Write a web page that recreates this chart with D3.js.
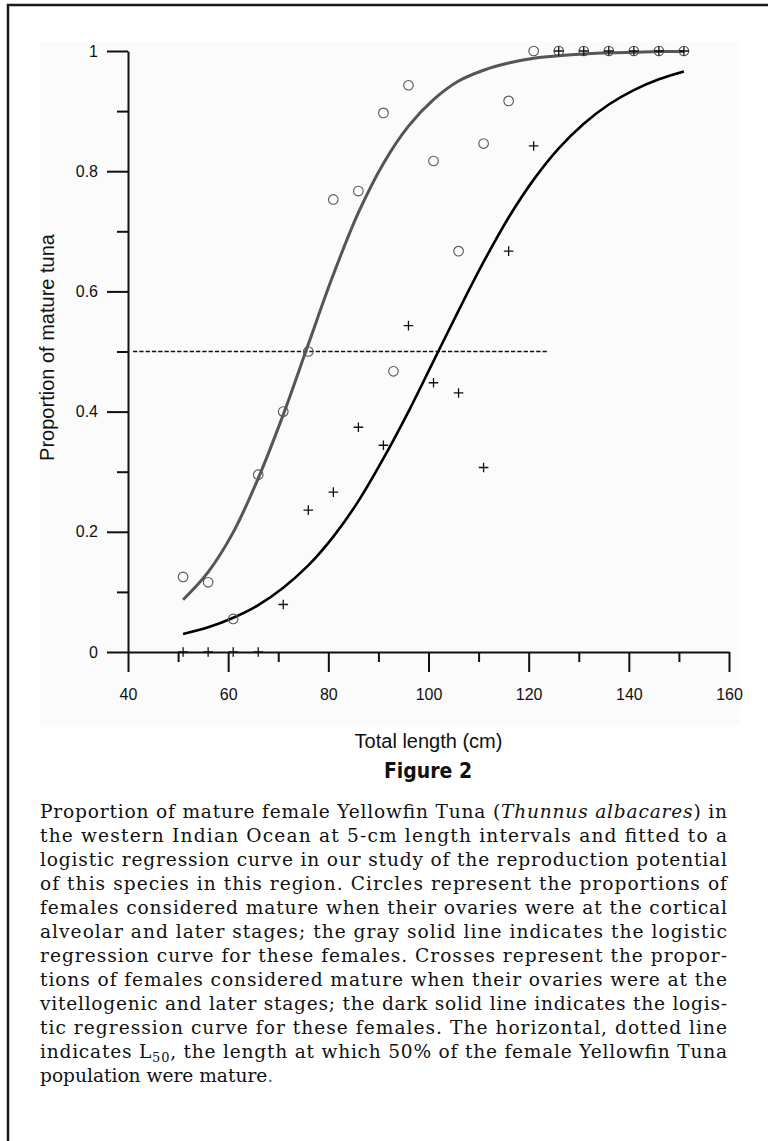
<!DOCTYPE html>
<html>
<head>
<meta charset="utf-8">
<script src="https://cdn.jsdelivr.net/npm/d3@7"></script>
<style>
  body { margin: 0; background: #fff; }
  .axis text { font-family: "Liberation Sans", Arial, sans-serif; font-size: 16px; fill: #111; }
  .axis path, .axis line { stroke: #111; stroke-width: 2; }
  .title { font-family: "Liberation Sans", Arial, sans-serif; font-size: 20px; fill: #111; }
  .caption { font-family: "DejaVu Serif", "Liberation Serif", serif; font-size: 18.6px; fill: #111; }
</style>
</head>
<body>
<div id="chart"></div>
<script>
// values (length in cm, proportion mature)
const circleLength = [51, 56, 61, 66, 71, 76, 81, 86, 91, 93, 96, 101, 106, 111, 116, 121, 126, 131, 136, 141, 146, 151];
const circleProp   = [0.125, 0.116, 0.055, 0.295, 0.400, 0.500, 0.753, 0.767, 0.897, 0.467, 0.943, 0.817, 0.667, 0.846, 0.917, 1, 1, 1, 1, 1, 1, 1];

const crossLength = [51, 56, 61, 66, 71, 76, 81, 86, 91, 96, 101, 106, 111, 116, 121, 126, 131, 136, 141, 146, 151];
const crossProp   = [0, 0, 0, 0, 0.079, 0.236, 0.266, 0.374, 0.344, 0.543, 0.448, 0.431, 0.307, 0.667, 0.842, 1, 1, 1, 1, 1, 1];

// fitted curves, read every 5 cm
const fitLength = [51, 56, 61, 66, 71, 76, 81, 86, 91, 96, 101, 106, 111, 116, 121, 126, 131, 136, 141, 146, 151];
const grayFit = [0.087, 0.133, 0.199, 0.289, 0.395, 0.512, 0.628, 0.731, 0.813, 0.875, 0.919, 0.950, 0.968, 0.980, 0.988, 0.992, 0.995, 0.997, 0.998, 0.999, 0.999];
const darkFit = [0.030, 0.041, 0.057, 0.078, 0.107, 0.144, 0.192, 0.251, 0.322, 0.400, 0.484, 0.568, 0.649, 0.723, 0.786, 0.838, 0.879, 0.911, 0.935, 0.953, 0.966];

// L50 reference line
const l50Length = [41, 124];
const l50Value = 0.5;

const xMajor = [40, 60, 80, 100, 120, 140, 160];
const xMinor = [50, 70, 90, 110, 130, 150];
const yMajor = [0, 0.2, 0.4, 0.6, 0.8, 1];
const yMinor = [0.1, 0.3, 0.5, 0.7, 0.9];

const captionLines = [
  ["Proportion of mature female Yellowfin Tuna (", {i: "Thunnus albacares"}, ") in"],
  ["the western Indian Ocean at 5-cm length intervals and fitted to a"],
  ["logistic regression curve in our study of the reproduction potential"],
  ["of this species in this region. Circles represent the proportions of"],
  ["females considered mature when their ovaries were at the cortical"],
  ["alveolar and later stages; the gray solid line indicates the logistic"],
  ["regression curve for these females. Crosses represent the propor-"],
  ["tions of females considered mature when their ovaries were at the"],
  ["vitellogenic and later stages; the dark solid line indicates the logis-"],
  ["tic regression curve for these females. The horizontal, dotted line"],
  ["indicates L", {sub: "50"}, {rest: ", the length at which 50% of the female Yellowfin Tuna"}],
  ["population were mature", {dot: "."}]
];

const margin = {top: 51, right: 39, bottom: 489, left: 128},
  width = 768 - margin.left - margin.right,
  height = 1141 - margin.top - margin.bottom;

const root = d3.select("#chart")
  .append("svg")
  .attr("width", 768)
  .attr("height", 1141);

// faint panel behind the plot, as in the scan
root.append("rect")
  .attr("x", 40).attr("y", 42)
  .attr("width", 700).attr("height", 683)
  .attr("fill", "#fbfbfb");

// figure frame (left and top)
root.append("path")
  .attr("d", "M8,1141V5H768")
  .attr("fill", "none")
  .attr("stroke", "#1a1a1a")
  .attr("stroke-width", 2.5);

const svg = root.append("g")
  .attr("transform", "translate(" + margin.left + "," + margin.top + ")");

const x = d3.scaleLinear().domain([40, 160]).range([0, width]);
const y = d3.scaleLinear().domain([0, 1]).range([height, 0]);

// axes: major + minor ticks
svg.append("g")
  .attr("class", "axis")
  .attr("transform", `translate(0, ${height})`)
  .call(d3.axisBottom(x).tickValues(xMajor).tickSize(20).tickSizeOuter(0).tickPadding(17).tickFormat(d3.format("d")));
svg.append("g")
  .attr("class", "axis")
  .attr("transform", `translate(0, ${height})`)
  .call(d3.axisBottom(x).tickValues(xMinor).tickSize(10).tickSizeOuter(0).tickFormat(""))
  .select(".domain").remove();

svg.append("g")
  .attr("class", "axis")
  .call(d3.axisLeft(y).tickValues(yMajor).tickSize(21).tickSizeOuter(0).tickPadding(9).tickFormat(d => d === 0 || d === 1 ? d : d3.format(".1f")(d)));
svg.append("g")
  .attr("class", "axis")
  .call(d3.axisLeft(y).tickValues(yMinor).tickSize(11).tickSizeOuter(0).tickFormat(""))
  .select(".domain").remove();

// dashed L50 line
svg.append("line")
  .attr("x1", x(l50Length[0]))
  .attr("x2", x(l50Length[1]))
  .attr("y1", y(l50Value))
  .attr("y2", y(l50Value))
  .attr("stroke", "#111")
  .attr("stroke-width", 1.6)
  .attr("stroke-dasharray", "4.3,2");

// fitted curves
const line = d3.line()
  .x(d => x(d[0]))
  .y(d => y(d[1]))
  .curve(d3.curveCatmullRom.alpha(0.5));

svg.append("path")
  .datum(d3.zip(fitLength, grayFit))
  .attr("d", line)
  .attr("fill", "none")
  .attr("stroke", "#555")
  .attr("stroke-width", 3);

svg.append("path")
  .datum(d3.zip(fitLength, darkFit))
  .attr("d", line)
  .attr("fill", "none")
  .attr("stroke", "#000")
  .attr("stroke-width", 2.6);

// circles
svg.append("g")
  .selectAll("circle")
  .data(d3.zip(circleLength, circleProp))
  .enter().append("circle")
  .attr("cx", d => x(d[0]))
  .attr("cy", d => y(d[1]))
  .attr("r", 4.8)
  .attr("fill", "none")
  .attr("stroke", "#555")
  .attr("stroke-width", 1.1);

// crosses
svg.append("g")
  .selectAll("path")
  .data(d3.zip(crossLength, crossProp))
  .enter().append("path")
  .attr("d", d => {
    let cx = x(d[0]), cy = y(d[1]), s = 4.8;
    return `M${cx - s},${cy}H${cx + s}M${cx},${cy - s}V${cy + s}`;
  })
  .attr("stroke", "#111")
  .attr("stroke-width", 1.3);

// axis titles
svg.append("text")
  .attr("class", "title")
  .attr("x", width / 2)
  .attr("y", 697)
  .attr("text-anchor", "middle")
  .text("Total length (cm)");

svg.append("text")
  .attr("class", "title")
  .attr("transform", `translate(-74, ${height / 2 - 4}) rotate(-90)`)
  .attr("text-anchor", "middle")
  .text("Proportion of mature tuna");

// figure label
root.append("text")
  .attr("x", 428)
  .attr("y", 778)
  .attr("text-anchor", "middle")
  .style("font-family", "'Liberation Sans Narrow', 'DejaVu Sans Condensed', sans-serif")
  .style("font-weight", "bold")
  .style("font-size", "21px")
  .attr("fill", "#111")
  .text("Figure 2");

// caption, justified line by line
const cap = root.append("g").attr("class", "caption");
captionLines.forEach((parts, i) => {
  let t = cap.append("text")
    .attr("x", 40)
    .attr("y", 818 + i * 24);
  if (i < captionLines.length - 1) {
    t.attr("textLength", 687).attr("lengthAdjust", "spacing");
  }
  parts.forEach(p => {
    if (typeof p === "string") t.append("tspan").text(p);
    else if (p.i) t.append("tspan").style("font-style", "italic").text(p.i);
    else if (p.sub) t.append("tspan").attr("dy", 4).style("font-size", "13px").text(p.sub);
    else if (p.rest) t.append("tspan").attr("dy", -4).text(p.rest);
    else if (p.dot) t.append("tspan").attr("fill", "#5a4fcf").text(p.dot);
  });
});
</script>
</body>
</html>
